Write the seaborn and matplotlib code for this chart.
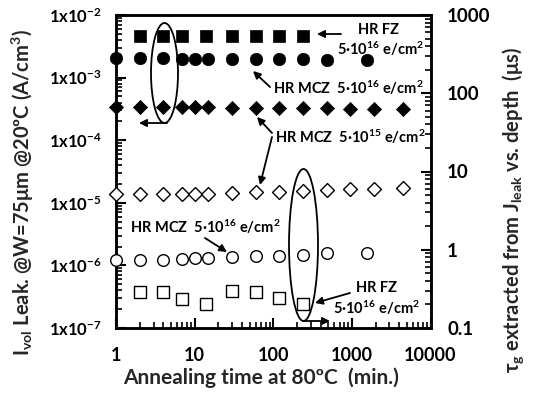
import numpy as np
import pandas as pd
import matplotlib
matplotlib.use('Agg')
import matplotlib.pyplot as plt
import seaborn as sns
from matplotlib.patches import Ellipse
from matplotlib.ticker import LogLocator, FixedLocator, FuncFormatter, NullFormatter

# ---------------- data ----------------
# Leakage current density (left axis, A/cm^3)
t_fz16 = [2, 4, 7, 14, 30, 60, 120, 240]
j_fz16 = [4.6e-3, 4.6e-3, 4.6e-3, 4.6e-3, 4.6e-3, 4.6e-3, 4.6e-3, 4.6e-3]

t_mcz16 = [1, 2, 4, 7, 10, 15, 30, 60, 120, 240, 480, 1550]
j_mcz16 = [2.05e-3, 2.05e-3, 2.05e-3, 2.0e-3, 2.0e-3, 2.0e-3, 2.0e-3, 1.95e-3,
           1.95e-3, 1.95e-3, 1.9e-3, 1.9e-3]

t_mcz15 = [1, 2, 4, 7, 10, 15, 30, 60, 120, 240, 480, 960, 1920, 4500]
j_mcz15 = [3.4e-4, 3.4e-4, 3.4e-4, 3.4e-4, 3.4e-4, 3.4e-4, 3.3e-4, 3.3e-4,
           3.3e-4, 3.25e-4, 3.25e-4, 3.2e-4, 3.2e-4, 3.2e-4]

# Generation lifetime tau_g (right axis, us)
tau_mcz15 = [5.1, 5.1, 5.1, 5.1, 5.1, 5.1, 5.3, 5.4, 5.5, 5.6, 5.8, 5.9, 6.0, 6.1]
tau_mcz16 = [0.74, 0.74, 0.74, 0.76, 0.78, 0.78, 0.80, 0.82, 0.84, 0.86, 0.90, 0.90]
tau_fz16 = [0.29, 0.29, 0.235, 0.20, 0.30, 0.29, 0.24, 0.20]

left_ticks = [1e-7, 1e-6, 1e-5, 1e-4, 1e-3, 1e-2]
right_ticks = [0.1, 1, 10, 100, 1000]
right_labels = ['0.1', '1', '10', '100', '1000']
x_ticks = [1, 10, 100, 1000, 10000]
x_labels = ['1', '10', '100', '1000', '10000']

# ---------------- style ----------------
sns.set_theme(style='white')
plt.rcParams['font.family'] = ['Lato', 'DejaVu Sans']
plt.rcParams['font.weight'] = 'bold'
plt.rcParams['axes.labelweight'] = 'bold'
plt.rcParams['mathtext.fontset'] = 'custom'
plt.rcParams['mathtext.rm'] = 'Lato:bold'
plt.rcParams['mathtext.it'] = 'Lato:bold'
plt.rcParams['mathtext.bf'] = 'Lato:bold'
plt.rcParams['mathtext.sf'] = 'Lato:bold'
plt.rcParams['mathtext.default'] = 'rm'

W, H = 534, 399
fig = plt.figure(figsize=(W / 100, H / 100), dpi=100)
L, R, T, B = 116, 430.5, 15, 328
ax = fig.add_axes([L / W, 1 - B / H, (R - L) / W, (B - T) / H])
ax2 = ax.twinx()

def P(x, y):
    return ((x - L) / (R - L), (B - y) / (B - T))

def F(x, y):
    return (x / W, 1 - y / H)

# ---------------- data marks ----------------
sns.scatterplot(x=t_fz16, y=j_fz16, ax=ax, marker='s', s=78, color='black',
                edgecolor='black', linewidth=0.5, clip_on=False, zorder=4)
sns.scatterplot(x=t_mcz16, y=j_mcz16, ax=ax, marker='o', s=80, color='black',
                edgecolor='black', linewidth=0.5, clip_on=False, zorder=4)
sns.scatterplot(x=t_mcz15, y=j_mcz15, ax=ax, marker='D', s=52, color='black',
                edgecolor='black', linewidth=0.5, clip_on=False, zorder=4)

sns.scatterplot(x=t_mcz15, y=tau_mcz15, ax=ax2, marker='D', s=50, color='white',
                edgecolor='black', linewidth=1.0, clip_on=False, zorder=4)
sns.scatterplot(x=t_mcz16, y=tau_mcz16, ax=ax2, marker='o', s=70, color='white',
                edgecolor='black', linewidth=1.0, clip_on=False, zorder=4)
sns.scatterplot(x=t_fz16, y=tau_fz16, ax=ax2, marker='s', s=68, color='white',
                edgecolor='black', linewidth=1.0, clip_on=False, zorder=4)

# ---------------- axes ----------------
ax.set_xscale('log')
ax.set_yscale('log')
ax.set_xlim(1, 10000)
ax.set_ylim(1e-7, 1e-2)
ax2.set_yscale('log')
ax2.set_ylim(0.1, 1000)

ax.xaxis.set_major_locator(FixedLocator(x_ticks))
ax.set_xticklabels(x_labels)
ax.xaxis.set_minor_locator(LogLocator(base=10, subs=np.arange(2, 10)))
ax.xaxis.set_minor_formatter(NullFormatter())

ax.yaxis.set_major_locator(FixedLocator(left_ticks))
ax.yaxis.set_major_formatter(FuncFormatter(lambda v, p: r'1x10$^{%d}$' % round(np.log10(v))))
ax.yaxis.set_minor_locator(LogLocator(base=10, subs=np.arange(2, 10)))
ax.yaxis.set_minor_formatter(NullFormatter())

ax2.yaxis.set_major_locator(FixedLocator(right_ticks))
ax2.set_yticklabels(right_labels)
ax2.yaxis.set_minor_locator(LogLocator(base=10, subs=np.arange(2, 10)))
ax2.yaxis.set_minor_formatter(NullFormatter())

for a in (ax, ax2):
    for sp in a.spines.values():
        sp.set_linewidth(1.8)
        sp.set_color('black')
    a.grid(False)
    a.set_facecolor('none')
    a.set_xlabel('')
    a.set_ylabel('')

ax.tick_params(axis='x', which='both', direction='in', bottom=True, top=False,
               labelsize=13, pad=14, colors='black')
ax.tick_params(axis='x', which='major', length=7, width=1.5)
ax.tick_params(axis='x', which='minor', length=4, width=1.2)
ax.tick_params(axis='y', which='both', direction='in', left=True, right=False,
               labelsize=12, pad=10, colors='black')
ax.tick_params(axis='y', which='major', length=7, width=1.5)
ax.tick_params(axis='y', which='minor', length=4, width=1.2)
ax2.tick_params(axis='y', which='both', direction='in', right=True, left=False,
                labelsize=13.5, pad=12, colors='black')
ax2.tick_params(axis='y', which='major', length=7, width=1.5)
ax2.tick_params(axis='y', which='minor', length=4, width=1.2)
for lab in ax.get_xticklabels() + ax.get_yticklabels() + ax2.get_yticklabels():
    lab.set_fontweight('bold')

# axis titles placed as in the reference
fig.text(*F(261, 378), 'Annealing time at 80ºC  (min.)', fontsize=15, fontweight='bold',
         ha='center', va='center')
fig.text(*F(23, 192), r'I$_{\mathregular{vol}}$ Leak. @W=75μm @20ºC (A/cm$^3$)', fontsize=14.5,
         fontweight='bold', rotation=90, ha='center', va='center')
fig.text(*F(513, 210), r'τ$_{\mathregular{g}}$ extracted from J$_{\mathregular{leak}}$ vs. depth  (μs)',
         fontsize=14.5, fontweight='bold', rotation=90, ha='center', va='center')

# ---------------- annotations ----------------
tkw = dict(transform=ax.transAxes, fontsize=10.5, fontweight='bold', color='black', zorder=6)
akw = dict(arrowstyle='-|>', color='black', lw=1.3, mutation_scale=11, shrinkA=0, shrinkB=0)

ax.text(*P(379, 30), 'HR FZ', ha='center', va='center', **tkw)
ax.text(*P(380, 49), r'5·10$^{16}$ e/cm$^2$', ha='center', va='center', **tkw)
ax.annotate('', xy=P(317, 34), xytext=P(341, 34), xycoords='axes fraction', arrowprops=akw)

ax.text(*P(273, 88), r'HR MCZ  5·10$^{16}$ e/cm$^2$', ha='left', va='center', **tkw)
ax.annotate('', xy=P(253, 71), xytext=P(270, 87), xycoords='axes fraction', arrowprops=akw)

ax.text(*P(275, 137), r'HR MCZ  5·10$^{15}$ e/cm$^2$', ha='left', va='center', **tkw)
ax.annotate('', xy=P(257, 117), xytext=P(272, 133), xycoords='axes fraction', arrowprops=akw)
ax.annotate('', xy=P(260, 185), xytext=P(272, 137), xycoords='axes fraction', arrowprops=akw)

ax.text(*P(130, 227), r'HR MCZ  5·10$^{16}$ e/cm$^2$', ha='left', va='center', **tkw)
ax.annotate('', xy=P(227, 252), xytext=P(205, 238), xycoords='axes fraction', arrowprops=akw)

ax.text(*P(377, 288), 'HR FZ', ha='center', va='center', **tkw)
ax.text(*P(376, 308), r'5·10$^{16}$ e/cm$^2$', ha='center', va='center', **tkw)
ax.annotate('', xy=P(315, 303), xytext=P(350, 293), xycoords='axes fraction', arrowprops=akw)

# ellipses with axis-pointing arrows
c1 = P(164.5, 73)
ax.add_patch(Ellipse(c1, 27 / (R - L), 100 / (B - T), transform=ax.transAxes,
                     fill=False, edgecolor='black', lw=1.3, zorder=5))
ax.annotate('', xy=P(139, 123), xytext=P(167, 123), xycoords='axes fraction', arrowprops=akw)

c2 = P(303.5, 245)
ax.add_patch(Ellipse(c2, 29 / (R - L), 152 / (B - T), transform=ax.transAxes,
                     fill=False, edgecolor='black', lw=1.3, zorder=5))
ax.annotate('', xy=P(330, 321), xytext=P(303, 321), xycoords='axes fraction', arrowprops=akw)

fig.savefig('out.png', dpi=100, facecolor='white')
